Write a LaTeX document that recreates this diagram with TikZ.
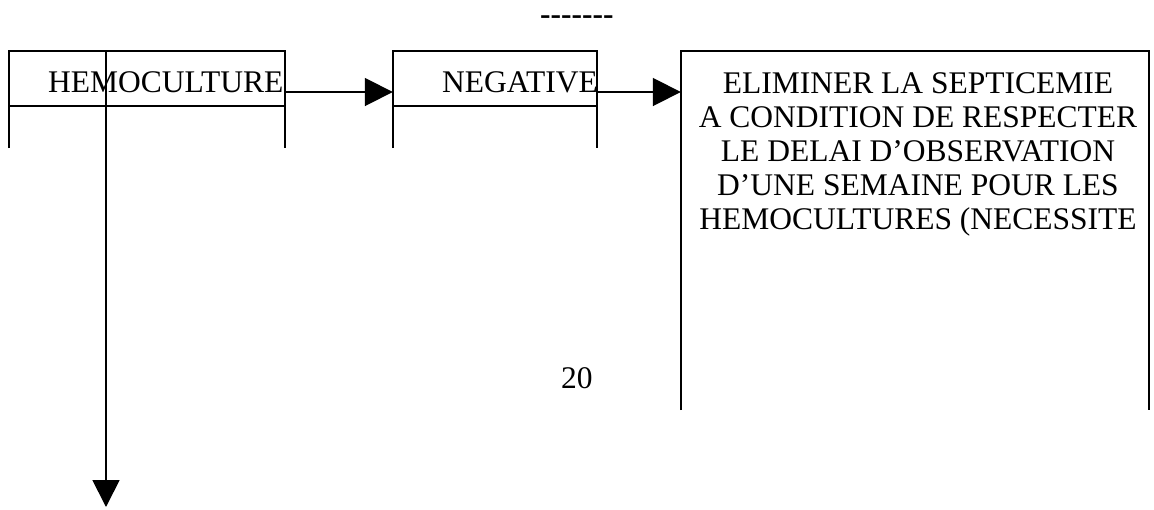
\documentclass[tikz,border=0pt]{standalone}
\usepackage{fontspec}
\setmainfont{Liberation Serif}
\usetikzlibrary{arrows.meta}
\newcommand\hyph{\hbox{-}}
\begin{document}
\begin{tikzpicture}[x=1pt,y=-1pt,
  frame/.style={line width=1.8pt},
  zone/.style={rectangle,inner sep=0pt},
  lbl/.style={inner sep=0pt,font=\fontsize{31.5}{34}\selectfont},
  arr/.style={line width=1.8pt,-{Triangle[length=28pt,width=28pt]}}]
\useasboundingbox (0,0) rectangle (1154,509);

% open-bottomed boxes
\node[zone,minimum width=276pt,minimum height=97pt] (hemo) at (147,99.5) {};
\node[zone,minimum width=204pt,minimum height=97pt] (neg) at (495,99.5) {};
\node[zone,minimum width=468pt,minimum height=359pt] (elim) at (915,230.5) {};

\draw[frame] (hemo.south west) |- (hemo.north east) -- (hemo.south east);
\draw[frame] (hemo.west |- 0,106) -- (hemo.east |- 0,106);
\draw[frame] (neg.south west) |- (neg.north east) -- (neg.south east);
\draw[frame] (neg.west |- 0,106) -- (neg.east |- 0,106);
\draw[frame] (elim.south west) |- (elim.north east) -- (elim.south east);

% texts
\node[lbl,anchor=base west] (hemotxt) at (48,92) {HEMOCULTURE};
\node[lbl,anchor=base west] (negtxt) at (442,92) {NEGATIVE};
\node[lbl,anchor=north,align=center] (elimtxt) at (918,72)
  {ELIMINER LA SEPTICEMIE\\A CONDITION DE RESPECTER\\LE DELAI D’OBSERVATION\\D’UNE SEMAINE POUR LES\\HEMOCULTURES (NECESSITE};
\node[lbl,anchor=base west] (page) at (561,388) {20};
\node[lbl,anchor=base west,font=\fontsize{31.5}{34}\selectfont\bfseries] (rule) at (540,24)
  {\hyph\hyph\hyph\hyph\hyph\hyph\hyph};

% connectors
\coordinate (down) at (106,507);
\draw[arr] (hemo.east |- hemotxt.base) -- (neg.west |- hemotxt.base);
\draw[arr] (neg.east |- negtxt.base) -- (elim.west |- negtxt.base);
\draw[arr,-{Triangle[length=27pt,width=27pt]}] (down |- hemo.north) -- (down);
\end{tikzpicture}
\end{document}
